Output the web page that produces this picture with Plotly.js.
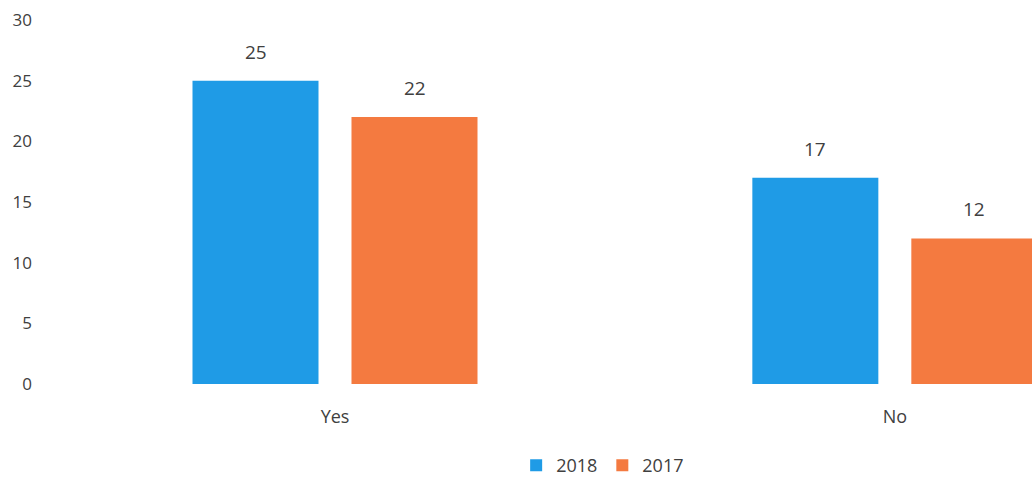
<!DOCTYPE html>
<html>
<head>
<meta charset="utf-8">
<script src="https://cdn.plot.ly/plotly-3.0.1.min.js"></script>
<style>html,body{margin:0;padding:0;background:#fff;}#chart{width:1032px;height:484px;}</style>
</head>
<body>
<div id="chart"></div>
<script>
const categories = ["Yes", "No"];
const series2018 = [25, 17];
const series2017 = [22, 12];
const seriesNames = ["2018", "2017"];
const yTicks = [0, 5, 10, 15, 20, 25, 30];

const fam = "Open Sans, Liberation Sans, sans-serif";
const labelFont = {family: fam, size: 19, color: "#404040"};

const traces = [
  {type: "bar", x: categories, y: series2018, name: seriesNames[0],
   marker: {color: "#1F9BE6"}, hoverinfo: "none"},
  {type: "bar", x: categories, y: series2017, name: seriesNames[1],
   marker: {color: "#F47A40"}, hoverinfo: "none"}
];

// value labels above each bar (offset per series within the group)
const seriesList = [series2018, series2017];
const groupShift = [-79.5, 79.5];
const annotations = [];
seriesList.forEach((vals, s) => {
  vals.forEach((v, i) => {
    annotations.push({x: categories[i], y: v, xref: "x", yref: "y", text: String(v),
      showarrow: false, xshift: groupShift[s], yshift: 14, yanchor: "bottom",
      font: labelFont});
  });
});

const layout = {
  width: 1032, height: 484,
  margin: {l: 45, r: 0, t: 20, b: 98},
  paper_bgcolor: "#fff", plot_bgcolor: "#fff",
  barmode: "group", bargap: 0.432, bargroupgap: 0.2075,
  font: {family: fam, color: "#404040", size: 17},
  xaxis: {type: "category", range: [-0.518, 1.245], showgrid: false, zeroline: false,
          showline: false, ticks: "", ticklabelstandoff: 20, tickfont: {size: 18, color: "#404040"}},
  yaxis: {range: [0, 30], tickvals: yTicks, showgrid: false, zeroline: false, showline: false,
          ticks: "", ticklabelstandoff: 12, tickfont: {size: 17, color: "#404040"}},
  annotations: annotations,
  showlegend: true,
  legend: {orientation: "h", x: 0.565, xanchor: "center", y: -0.225, yanchor: "middle",
           font: {size: 18, color: "#404040"}, itemwidth: 30, traceorder: "normal"}
};

Plotly.newPlot("chart", traces, layout, {displayModeBar: false, staticPlot: true});
</script>
</body>
</html>
